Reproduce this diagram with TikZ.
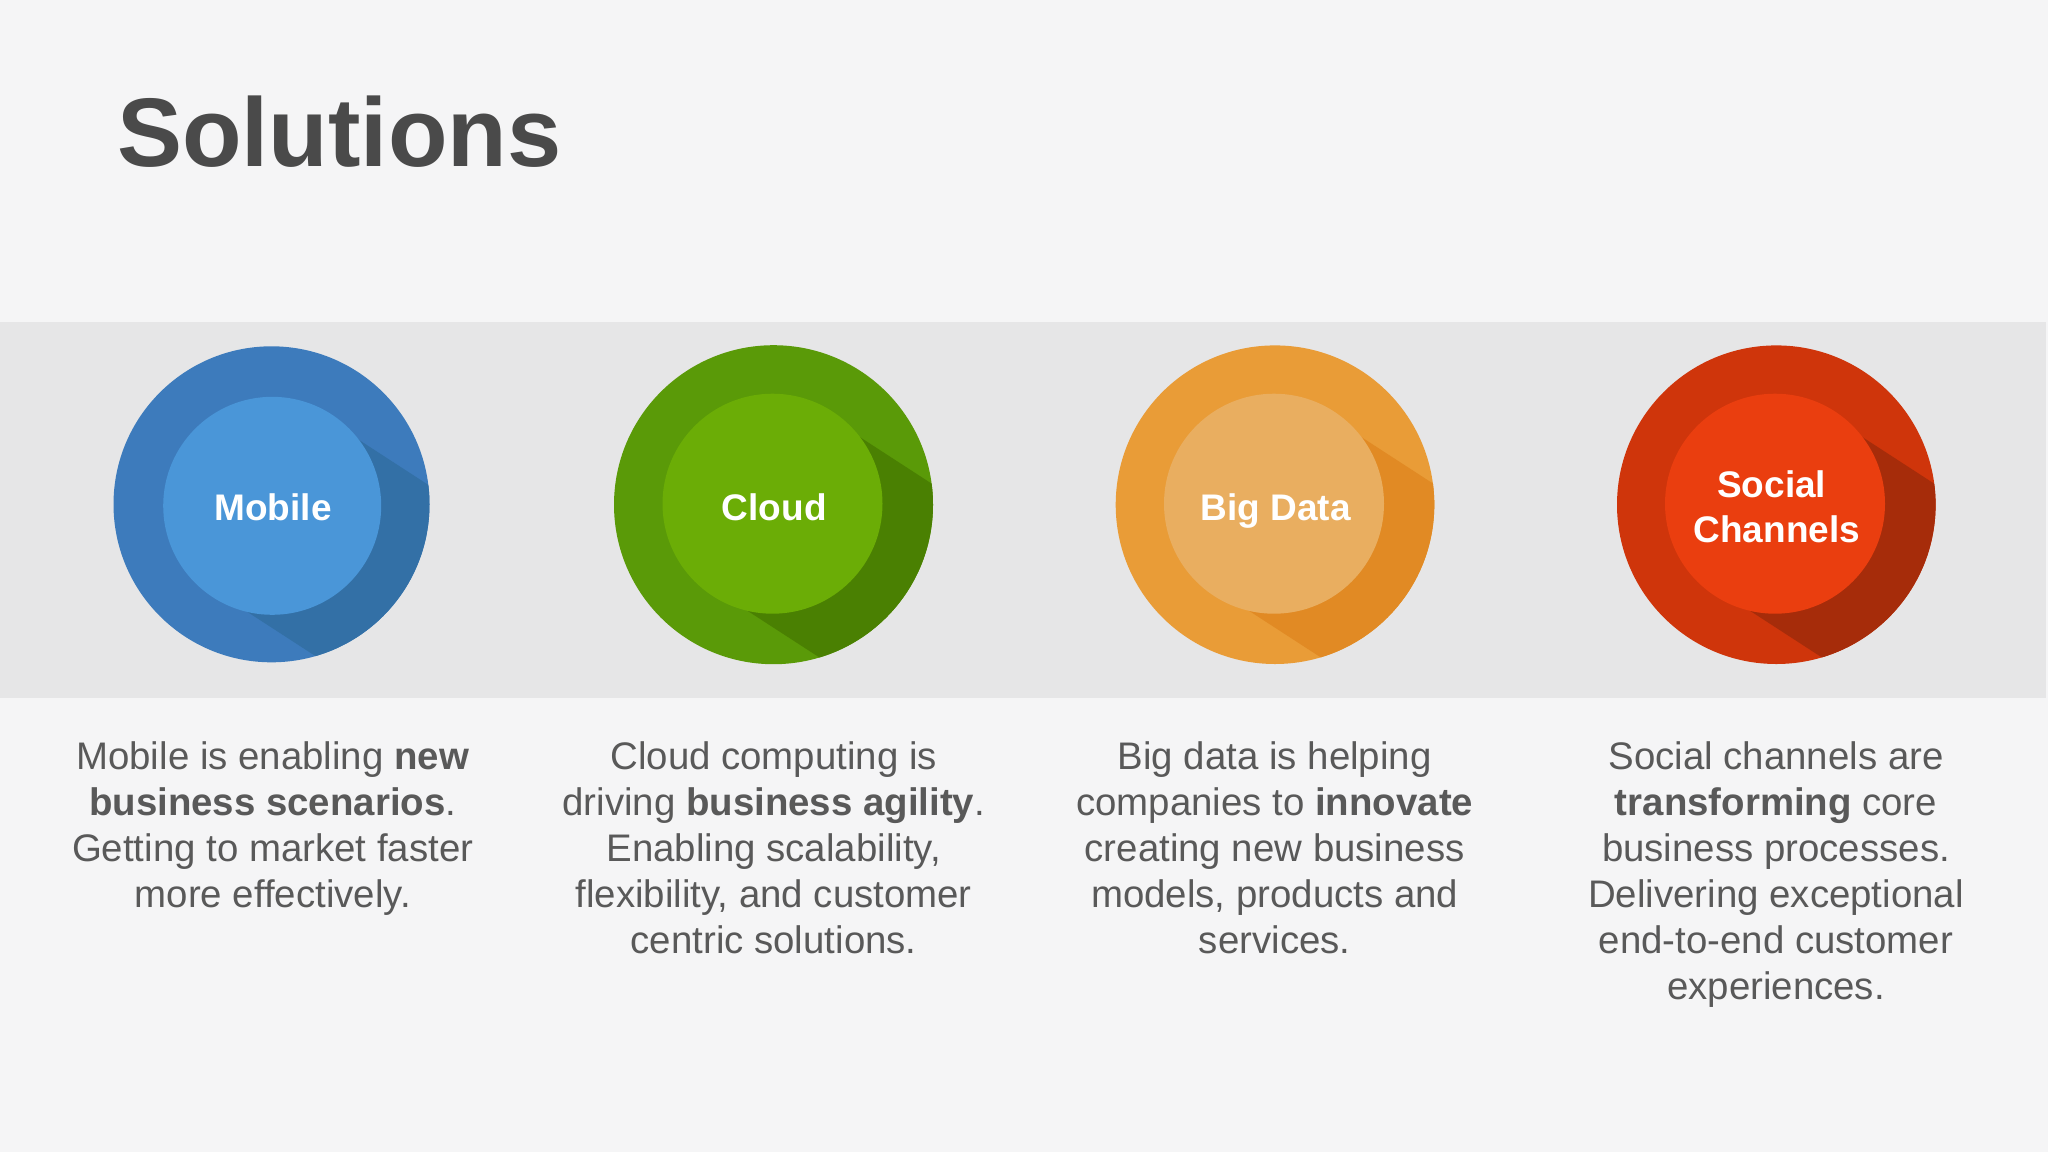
\documentclass[tikz,border=0pt]{standalone}
\usepackage{fontspec}
\setmainfont{Liberation Sans}
\definecolor{pagebg}{HTML}{F5F5F6}
\definecolor{bandbg}{HTML}{E6E6E7}
\definecolor{titlecol}{HTML}{4A4A4A}
\definecolor{bodycol}{HTML}{595959}
\definecolor{bluea}{HTML}{3D7BBC}\definecolor{blueb}{HTML}{3370A6}\definecolor{bluec}{HTML}{4A96D8}
\definecolor{greena}{HTML}{5A9A08}\definecolor{greenb}{HTML}{4A8002}\definecolor{greenc}{HTML}{6BAD06}
\definecolor{orangea}{HTML}{E99C37}\definecolor{orangeb}{HTML}{E18A24}\definecolor{orangec}{HTML}{E9AE60}
\definecolor{reda}{HTML}{CF350B}\definecolor{redb}{HTML}{A62C0A}\definecolor{redc}{HTML}{EA3E0F}
\tikzset{
  discshape/.style={circle,inner sep=0pt,outer sep=0pt},
  disclabel/.style={anchor=base,inner sep=0pt,text=white,align=center,
    font=\fontsize{37}{45.5}\selectfont\bfseries},
  bodytext/.style={anchor=base,align=center,text=bodycol,inner sep=0pt,
    font=\fontsize{38.4}{46.1}\selectfont},
  titletext/.style={anchor=base west,inner sep=0pt,text=titlecol,
    font=\fontsize{97.5}{110}\selectfont\bfseries}
}
% #1 name, #2 #3 outer centre, #4 outer radius, #5 #6 inner centre, #7 inner radius, #8 palette
\newcommand{\soldisc}[8]{%
  \node[discshape,fill=#8a,minimum size=2*#4pt] (#1outer) at (#2,#3) {};
  \begin{scope}
    \clip (#2,#3) circle (#4);
    \fill[#8b] ({#5+0.545*#7*0.94},{#6-0.839*#7*0.94}) -- ++(336,218)
      -- ({#5-0.545*#7*0.94+336},{#6+0.839*#7*0.94+218})
      -- ({#5-0.545*#7*0.94},{#6+0.839*#7*0.94}) -- cycle;
  \end{scope}
  \node[discshape,fill=#8c,minimum size=2*#7pt] (#1inner) at (#5,#6) {};
}
\begin{document}
\begin{tikzpicture}[x=1pt,y=-1pt]
\useasboundingbox (0,0) rectangle (2048,1152);
\fill[pagebg] (0,0) rectangle (2048,1152);
\fill[bandbg] (0,322) rectangle (2046,698);
\node[titletext] (title) at (117,166) {Solutions};
\soldisc{mobile}{271.5}{504.3}{158}{272.2}{505.8}{109}{blue}
\soldisc{cloud}{773.5}{504.7}{159.5}{772.5}{503.7}{110}{green}
\soldisc{bigdata}{1275}{504.7}{159.3}{1274}{503.7}{110}{orange}
\soldisc{social}{1776.3}{504.7}{159.3}{1775}{503.7}{110}{red}
\node[disclabel] (mobilelabel) at (273,520) {Mobile};
\node[disclabel] (cloudlabel) at (774.3,520) {Cloud};
\node[disclabel] (bigdatalabel) at (1275.8,520) {Big Data};
\node[disclabel] (sociallabel) at (1776.8,542.5) {Social\hspace*{10.3pt}\\Channels};
\node[bodytext] (mobiletext) at (272.7,907.6) {Mobile is enabling \textbf{new}\\\textbf{business scenarios}.\\Getting to market faster\\more effectively.};
\node[bodytext] (cloudtext) at (773.7,953.7) {Cloud computing is\\driving \textbf{business agility}.\\Enabling scalability,\\flexibility, and customer\\centric solutions.};
\node[bodytext] (bigdatatext) at (1274.7,953.7) {Big data is helping\\companies to \textbf{innovate}\\creating new business\\models, products and\\services.};
\node[bodytext] (socialtext) at (1776,999.8) {Social channels are\\\textbf{transforming} core\\business processes.\\Delivering exceptional\\end-to-end customer\\experiences.};
\end{tikzpicture}
\end{document}
